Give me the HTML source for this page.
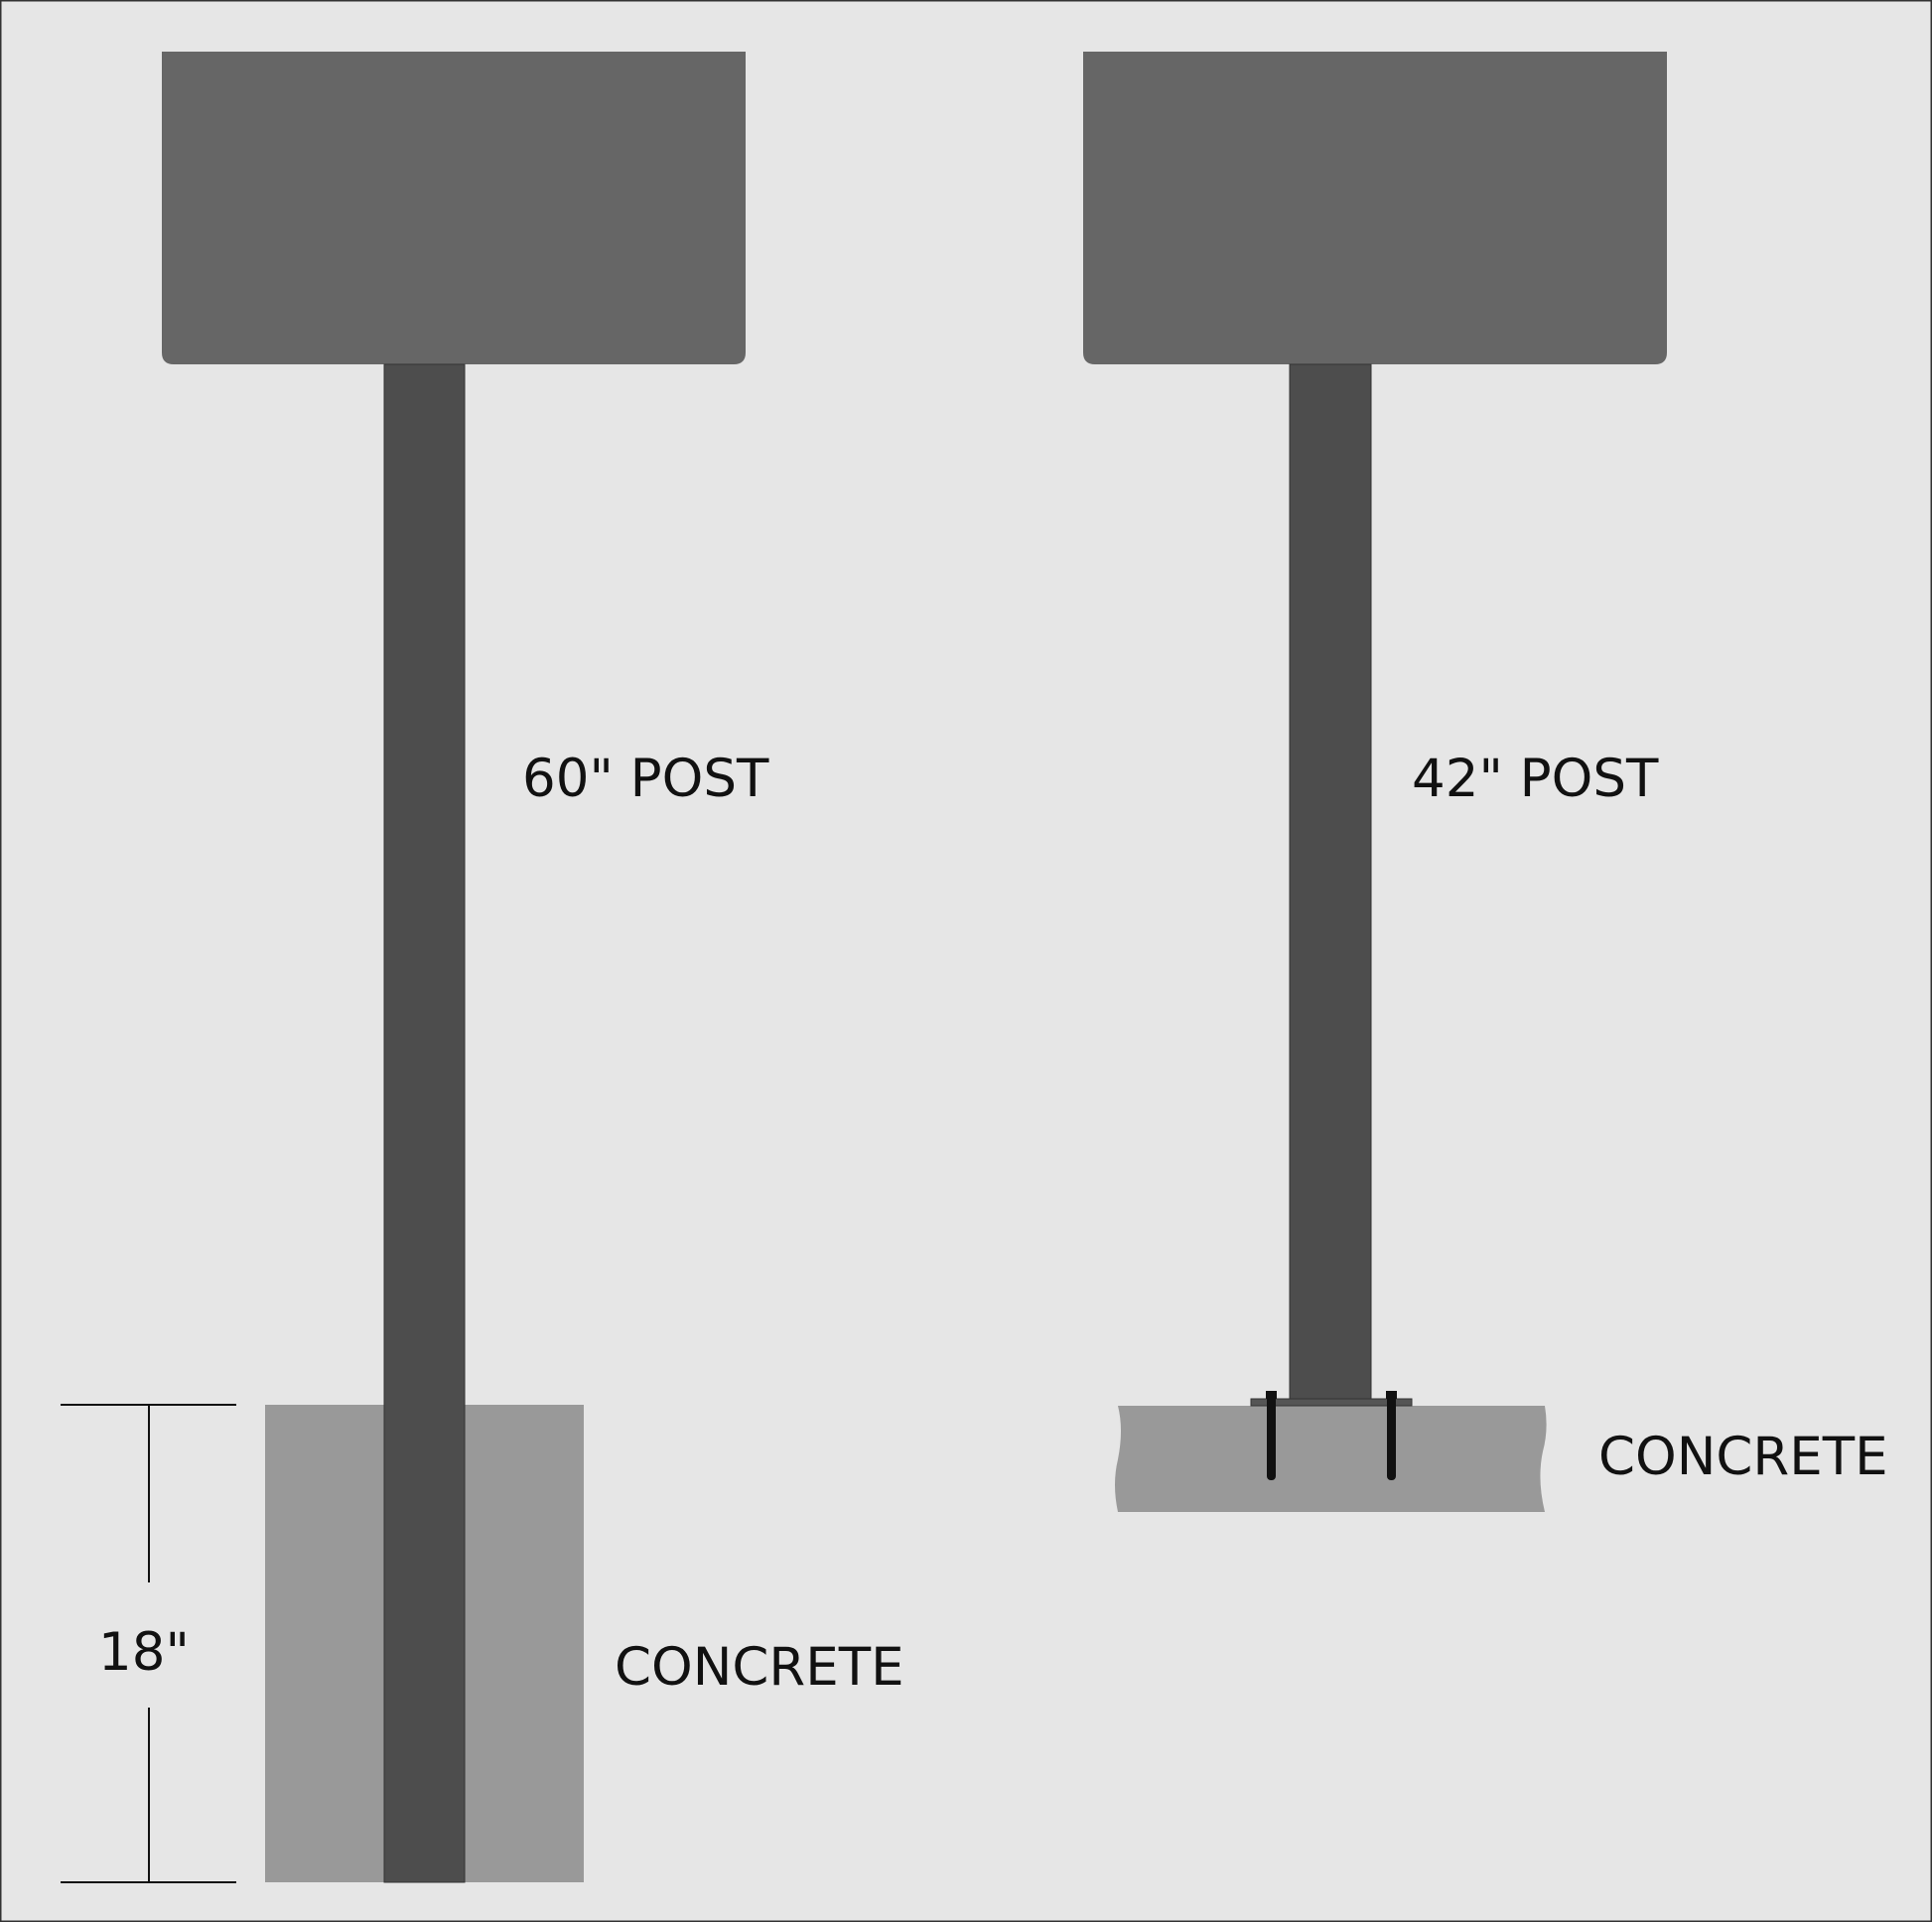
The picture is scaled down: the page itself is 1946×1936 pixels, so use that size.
<!DOCTYPE html>
<html><head><meta charset="utf-8"><style>
html,body{margin:0;padding:0;background:#e6e6e6}
svg{display:block}
text{font-family:"DejaVu Sans","Liberation Sans",sans-serif;font-size:53px;fill:#111}
</style></head><body>
<svg width="1946" height="1936" viewBox="0 0 1946 1936" xmlns="http://www.w3.org/2000/svg">
<rect x="0.5" y="0.5" width="1945" height="1935" fill="#e6e6e6" stroke="#333" stroke-width="2"/>
<!-- left -->
<path d="M163 52 H751 V355 Q751 367 739 367 H175 Q163 367 163 355 Z" fill="#666"/>
<rect x="267" y="1415" width="321" height="481" fill="#999"/>
<rect x="387" y="367" width="81" height="1529" fill="#4d4d4d" stroke="#333" stroke-width="1"/>
<g stroke="#111" stroke-width="2">
<line x1="61" y1="1415" x2="238" y2="1415"/>
<line x1="61" y1="1896" x2="238" y2="1896"/>
<line x1="150" y1="1415" x2="150" y2="1594"/>
<line x1="150" y1="1720" x2="150" y2="1896"/>
</g>
<text x="99" y="1682">18"</text>
<text x="619" y="1697">CONCRETE</text>
<text x="526" y="802">60" POST</text>
<!-- right -->
<path d="M1091 52 H1679 V355 Q1679 367 1667 367 H1103 Q1091 367 1091 355 Z" fill="#666"/>
<rect x="1299" y="367" width="82" height="1043" fill="#4d4d4d" stroke="#333" stroke-width="1"/>
<path d="M1126 1416 H1556 Q1560 1440 1554 1462 Q1548 1490 1556 1523 H1126 Q1120 1495 1126 1470 Q1132 1440 1126 1416 Z" fill="#999"/>
<rect x="1260" y="1409" width="162" height="7" fill="#555" stroke="#333" stroke-width="1"/>
<rect x="1276" y="1401" width="9" height="90" rx="4" fill="#111"/>
<rect x="1397" y="1401" width="9" height="90" rx="4" fill="#111"/>
<rect x="1275" y="1401" width="11" height="8" fill="#111"/>
<rect x="1396" y="1401" width="11" height="8" fill="#111"/>
<text x="1422" y="802">42" POST</text>
<text x="1610" y="1485">CONCRETE</text>
</svg>
</body></html>
